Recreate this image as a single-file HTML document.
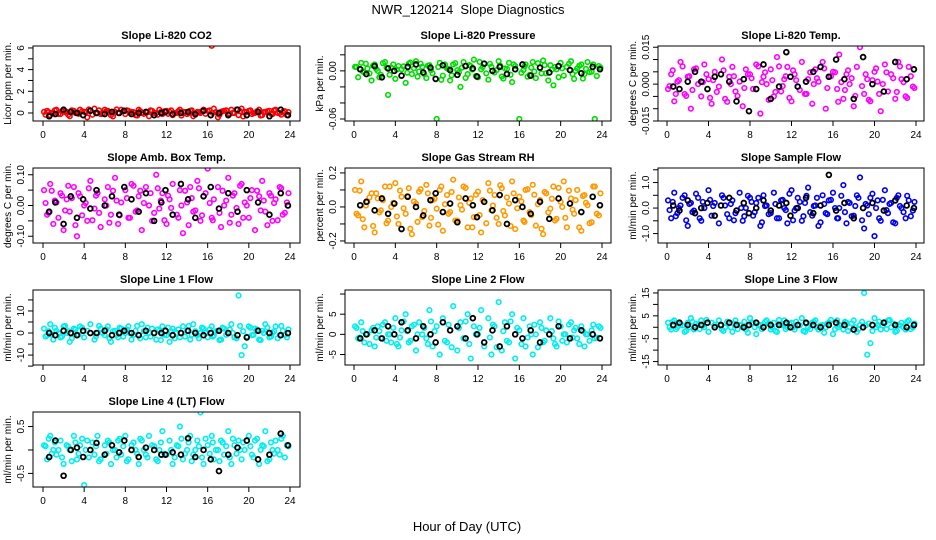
<!DOCTYPE html>
<html><head><meta charset="utf-8"><style>
body{margin:0;background:#fff}
svg{display:block;font-family:"Liberation Sans",sans-serif}
</style></head><body>
<svg id="c" width="936" height="540" viewBox="0 0 936 540">
<rect width="936" height="540" fill="#fff"/>
<text x="468" y="14" text-anchor="middle" font-size="13" style="white-space:pre">NWR_120214  Slope Diagnostics</text>
<text x="467" y="531" text-anchor="middle" font-size="13">Hour of Day (UTC)</text>
</svg>
<script>
const hoursColored=[0.1,0.4,0.7,1.0,1.3,1.7,2.0,2.3,2.6,3.0,3.3,3.6,4.0,4.3,4.6,5.0,5.3,5.6,6.0,6.3,6.6,7.0,7.3,7.6,8.0,8.3,8.6,9.0,9.3,9.6,10.0,10.3,10.6,11.0,11.3,11.6,12.0,12.3,12.6,13.0,13.3,13.6,14.0,14.3,14.6,15.0,15.3,15.6,16.0,16.4,16.6,17.0,17.3,17.6,18.0,18.3,18.6,19.0,19.3,19.6,20.0,20.3,20.6,21.0,21.3,21.6,22.0,22.3,22.6,23.0,23.3,23.7];
const hoursColored2=[0.25,0.55,0.85,1.15,1.5,1.85,2.15,2.45,2.8,3.15,3.45,3.8,4.15,4.45,4.8,5.15,5.45,5.8,6.15,6.45,6.8,7.15,7.45,7.8,8.15,8.45,8.8,9.15,9.45,9.8,10.15,10.45,10.8,11.15,11.45,11.8,12.15,12.45,12.8,13.15,13.45,13.8,14.15,14.45,14.8,15.15,15.45,15.8,16.2,16.5,16.8,17.15,17.45,17.8,18.15,18.45,18.8,19.15,19.45,19.8,20.15,20.45,20.8,21.15,21.45,21.8,22.15,22.45,22.8,23.15,23.5,23.85];
const hoursBlack=[0.6,1.2,2.0,2.7,3.3,3.9,4.6,5.2,6.0,6.7,7.4,7.9,8.6,9.3,10.0,10.8,11.5,11.9,12.6,13.4,14.1,14.8,15.6,16.3,17.1,18.0,18.9,19.8,20.9,22.0,23.1,23.8];
const co2Colored=[0.1,0.2,-0.2,0.0,0.3,-0.1,0.2,0.1,-0.3,0.2,0.0,0.3,0.1,-0.4,0.2,0.4,0.0,-0.1,0.3,0.2,-0.2,0.1,0.0,0.3,-0.1,0.2,0.1,-0.2,0.3,0.0,0.1,-0.3,0.2,0.0,0.3,-0.1,0.2,0.1,-0.2,0.0,0.3,0.1,-0.1,0.2,-0.3,0.1,0.0,0.3,0.2,6.2,0.4,-0.4,0.1,0.2,-0.1,0.3,0.0,-0.2,0.4,0.1,0.2,-0.1,0.0,0.3,-0.2,0.1,0.2,-0.1,0.3,0.0,0.1,-0.2];
const co2Black=[-0.3,-0.1,0.3,0.1,0.0,-0.2,0.2,0.0,-0.1,0.1,0.0,0.2,-0.1,0.0,0.1,-0.2,0.0,0.1,-0.1,0.0,0.1,-0.1,0.2,-0.2,0.0,-0.2,0.3,-0.2,0.1,-0.3,0.3,-0.2];
const pressColored=[0.005,-0.008,0.010,-0.002,0.003,-0.012,0.008,0.000,-0.005,0.011,-0.030,0.004,-0.010,0.006,0.002,-0.015,0.009,-0.004,0.012,-0.001,0.005,-0.009,0.007,-0.003,-0.060,0.010,-0.006,0.003,-0.012,0.008,0.001,-0.020,0.011,-0.004,0.006,0.014,-0.008,0.002,0.009,-0.011,0.005,-0.002,0.012,-0.007,0.003,0.010,-0.014,0.006,-0.060,0.001,0.008,-0.005,0.011,-0.009,0.004,0.013,-0.003,0.007,-0.018,0.002,0.010,-0.006,0.005,0.012,-0.010,0.003,0.008,-0.004,0.011,-0.001,-0.060,0.006];
const pressBlack=[0.002,-0.004,0.006,-0.008,0.003,0.000,-0.006,0.005,0.008,-0.002,0.004,-0.010,0.007,0.001,-0.005,0.006,0.003,-0.007,0.009,0.000,0.005,-0.004,0.002,0.008,-0.006,0.004,-0.002,0.006,0.001,-0.003,0.005,0.002];
const tempColored=[-0.002,0.004,-0.007,0.001,0.009,-0.004,0.003,-0.010,0.006,0.000,-0.005,0.008,0.002,-0.008,0.005,-0.001,0.010,-0.006,0.003,0.007,-0.003,0.001,-0.009,0.006,0.004,-0.002,0.008,-0.012,0.003,0.000,0.006,-0.005,0.011,-0.003,0.002,0.007,-0.007,0.004,-0.001,0.009,-0.004,0.002,-0.008,0.006,0.001,0.009,-0.010,0.003,0.005,-0.002,0.012,-0.006,0.004,0.000,-0.009,0.007,0.015,-0.004,0.002,-0.007,0.005,0.001,-0.011,0.008,-0.003,0.004,-0.006,0.009,0.002,-0.005,0.007,-0.001];
const tempBlack=[-0.001,-0.002,0.001,0.005,0.001,-0.002,0.003,0.004,0.001,-0.007,0.002,-0.011,-0.002,0.008,-0.006,-0.001,0.013,0.003,-0.001,0.001,0.005,0.007,0.003,0.010,0.002,-0.006,0.011,0.000,-0.003,0.009,0.002,0.006];
const ambColored=[0.05,-0.03,0.07,-0.06,0.01,0.04,-0.08,0.02,-0.02,0.06,-0.10,0.03,0.00,-0.05,0.08,-0.01,0.04,-0.07,0.02,0.06,-0.03,0.09,-0.06,0.01,0.05,-0.04,0.07,-0.02,0.03,-0.08,0.06,0.00,-0.05,0.10,-0.01,0.04,-0.06,0.02,0.07,-0.03,0.05,-0.09,0.01,0.06,-0.02,0.08,-0.05,0.03,0.12,-0.04,0.02,0.06,-0.07,0.00,0.09,-0.03,0.04,-0.06,0.07,0.01,-0.04,0.05,-0.08,0.03,0.08,-0.02,0.04,-0.05,0.02,0.06,-0.03,0.01];
const ambBlack=[-0.02,0.01,-0.06,0.03,-0.04,0.02,-0.01,0.05,0.00,0.03,-0.03,0.06,0.02,-0.02,0.04,-0.05,0.01,0.05,-0.03,0.07,0.02,-0.04,0.03,0.06,-0.01,0.04,-0.02,0.05,0.01,-0.03,0.04,0.00];
const rhColored=[0.10,-0.05,0.15,-0.12,0.03,0.08,-0.15,0.05,-0.02,0.12,-0.08,0.00,0.14,-0.10,0.06,-0.04,0.11,-0.16,0.02,0.09,-0.06,0.13,-0.11,0.04,-0.01,0.10,-0.14,0.07,-0.03,0.16,-0.08,0.01,0.12,-0.12,0.05,-0.06,0.09,-0.15,0.03,0.14,-0.02,0.07,-0.10,0.11,-0.05,0.02,0.15,-0.13,0.06,-0.08,0.10,-0.03,0.13,-0.11,0.04,-0.16,0.08,-0.01,0.12,-0.07,0.03,0.15,-0.12,0.05,-0.04,0.10,-0.14,0.07,0.01,-0.09,0.12,-0.05];
const rhBlack=[0.01,0.03,-0.02,0.05,-0.04,0.02,-0.13,0.06,0.00,-0.05,0.04,0.08,-0.03,0.02,-0.09,0.05,0.01,-0.06,0.03,-0.02,0.07,-0.10,0.04,0.00,-0.04,0.03,-0.07,0.05,0.02,-0.03,0.06,0.01];
const sampleColored=[0.3,-0.4,0.6,-0.2,0.1,0.5,-0.7,0.2,-0.1,0.4,-0.5,0.0,0.7,-0.3,0.2,-0.6,0.5,0.1,-0.4,0.3,-0.2,0.6,-0.5,0.0,0.4,-0.3,0.2,-0.7,0.5,0.1,-0.2,0.6,-0.4,0.3,0.0,-0.6,0.7,-0.1,0.4,-0.5,0.2,0.8,-0.3,0.1,-0.7,0.5,-0.2,0.3,0.6,-0.4,0.0,0.9,-0.6,0.2,-0.3,0.5,1.2,-0.8,0.1,0.4,-1.1,0.3,-0.5,0.7,-0.2,0.2,-0.6,0.5,0.0,-0.4,0.3,-0.1];
const sampleBlack=[0.1,-0.1,0.3,-0.2,0.0,0.2,-0.3,0.1,0.4,-0.1,0.2,-0.2,0.0,0.3,-0.1,0.1,0.2,-0.3,0.0,0.4,-0.2,0.1,1.3,-0.1,0.2,-0.4,0.0,0.2,-0.1,0.3,0.1,0.0];
const line1Colored=[2,-1,4,-3,1,-2,3,0,-4,2,-1,3,-2,1,4,-3,0,2,-1,3,-4,1,-2,2,0,3,-3,1,-1,4,-2,0,2,-3,1,3,-1,-4,2,0,-2,3,1,-3,4,-1,0,2,-2,3,-1,1,-3,2,0,4,-2,17,-10,-6,3,-1,2,-3,1,4,-2,0,3,-1,1,-2];
const line1Black=[0,-1,1,0,-1,1,0,0,1,-1,0,1,0,-1,1,0,0,1,-1,0,1,0,-1,0,1,0,-1,-2,1,0,-1,0];
const line2Colored=[2,-1,3,-2,0,1,-3,2,-1,3,0,-2,4,-3,1,5,-2,2,-4,3,0,-1,6,-3,2,-5,4,-2,1,7,-4,3,-1,5,-6,2,0,6,-3,4,-5,2,8,-4,3,-2,5,-6,1,4,-3,2,-5,0,3,-2,1,4,-1,-3,2,0,-2,3,1,-1,2,-3,0,1,-1,2];
const line2Black=[-1,0,1,-1,2,0,3,1,-1,2,0,-2,3,1,2,-1,4,0,-2,1,-3,2,0,-1,1,-2,0,2,-1,1,0,-1];
const line3Colored=[2,-1,3,0,1,-2,2,4,-1,1,3,0,-2,2,1,3,-1,0,2,-2,3,1,0,-1,4,2,-3,1,0,3,-1,2,-2,1,3,0,2,-1,1,4,-2,0,2,3,-1,1,0,2,-3,3,1,-1,2,0,3,-2,1,15,-12,-7,4,1,-1,2,3,0,-2,1,2,-1,3,0];
const line3Black=[1,2,1,0,1,2,0,1,2,1,0,1,2,0,1,1,2,0,1,2,1,0,1,2,1,-1,0,1,2,1,0,1];
const line4Colored=[0.1,-0.2,0.3,0.0,-0.1,0.2,-0.3,0.1,0.0,0.3,-0.2,0.1,-0.75,0.2,0.0,-0.1,0.3,-0.2,0.1,0.2,-0.3,0.0,0.2,-0.1,0.3,-0.2,0.1,0.0,-0.3,0.2,-0.1,0.3,0.1,-0.2,0.0,0.4,-0.1,0.2,-0.3,0.1,0.5,-0.2,0.0,0.3,-0.1,0.2,0.8,-0.3,0.1,0.3,-0.2,0.0,0.2,-0.1,0.4,-0.3,0.1,0.2,-0.2,0.0,0.3,-0.1,0.2,-0.3,0.1,0.4,-0.2,0.0,0.2,-0.1,0.3,0.1];
const line4Black=[-0.15,0.2,-0.55,0.0,0.05,-0.15,0.0,0.15,-0.1,0.1,-0.05,0.2,0.0,-0.15,0.05,0.0,-0.1,-0.1,-0.05,-0.1,0.25,-0.15,0.0,-0.2,-0.45,-0.1,0.05,0.2,-0.2,-0.1,0.35,0.1];
const xTicks=[0,4,8,12,16,20,24];

const NS="http://www.w3.org/2000/svg";
const svg=document.getElementById('c');
function mk(tag,attrs,parent){const e=document.createElementNS(NS,tag);for(const k in attrs)e.setAttribute(k,attrs[k]);(parent||svg).appendChild(e);return e;}
const cols=[{l:33,r:300,x0:43,x1:290},{l:345,r:611,x0:354,x1:602},{l:658,r:924,x0:667,x1:916}];
const panels=[
 {name:'co2',title:'Slope Li-820 CO2',ylab:'Licor ppm per min.',r:0,c:0,ymin:-0.74,ymax:6.18,core:0.5,ticks:[0,1,2,3,4,5,6],labels:{0:'0',2:'2',4:'4',6:'6'},color:'#ff0000',cv:co2Colored,bv:co2Black},
 {name:'pressure',title:'Slope Li-820 Pressure',ylab:'kPa per min.',r:0,c:1,ymin:-0.0625,ymax:0.031,core:0.016,ticks:[-0.06,-0.04,-0.02,0,0.02],labels:{'-0.06':'-0.06','0':'0.00'},color:'#00dd00',cv:pressColored,bv:pressBlack},
 {name:'li820-temp',title:'Slope Li-820 Temp.',ylab:'degrees C per min.',r:0,c:2,ymin:-0.015,ymax:0.0155,core:0.009,ticks:[-0.015,-0.01,-0.005,0,0.005,0.01,0.015],labels:{'-0.015':'-0.015','0':'0.000','0.015':'0.015'},color:'#ff00ff',cv:tempColored,bv:tempBlack},
 {name:'amb-box-temp',title:'Slope Amb. Box Temp.',ylab:'degrees C per min.',r:1,c:0,ymin:-0.122,ymax:0.122,core:0.08,ticks:[-0.1,-0.05,0,0.05,0.1],labels:{'-0.1':'-0.10','0':'0.00','0.1':'0.10'},color:'#ff00ff',cv:ambColored,bv:ambBlack},
 {name:'gas-stream-rh',title:'Slope Gas Stream RH',ylab:'percent per min.',r:1,c:1,ymin:-0.212,ymax:0.229,core:0.16,ticks:[-0.2,-0.1,0,0.1,0.2],labels:{'-0.2':'-0.2','0':'0.0','0.2':'0.2'},color:'#ff9900',cv:rhColored,bv:rhBlack},
 {name:'sample-flow',title:'Slope Sample Flow',ylab:'ml/min per min.',r:1,c:2,ymin:-1.37,ymax:1.57,core:0.7,ticks:[-1,-0.5,0,0.5,1,1.5],labels:{'-1':'-1.0','0':'0.0','1':'1.0'},color:'#0000ee',cv:sampleColored,bv:sampleBlack},
 {name:'line1-flow',title:'Slope Line 1 Flow',ylab:'ml/min per min.',r:2,c:0,ymin:-14.5,ymax:19.5,core:4,ticks:[-15,-10,-5,0,5,10,15],labels:{'-10':'-10','0':'0','10':'10'},color:'#00eeee',cv:line1Colored,bv:line1Black},
 {name:'line2-flow',title:'Slope Line 2 Flow',ylab:'ml/min per min.',r:2,c:1,ymin:-7.6,ymax:11,core:4,ticks:[-5,0,5,10],labels:{'-5':'-5','0':'0','5':'5'},color:'#00eeee',cv:line2Colored,bv:line2Black},
 {name:'line3-flow',title:'Slope Line 3 Flow',ylab:'ml/min per min.',r:2,c:2,ymin:-16.5,ymax:16.3,core:4,ticks:[-15,-10,-5,0,5,10,15],labels:{'-15':'-15','-5':'-5','5':'5','15':'15'},color:'#00eeee',cv:line3Colored,bv:line3Black},
 {name:'line4-flow',title:'Slope Line 4 (LT) Flow',ylab:'ml/min per min.',r:3,c:0,ymin:-0.79,ymax:0.81,core:0.35,ticks:[-0.5,0,0.5],labels:{'-0.5':'-0.5','0.5':'0.5'},color:'#00eeee',cv:line4Colored,bv:line4Black}
];
panels.forEach(p=>{
 const col=cols[p.c];const top=46+122*p.r,bot=top+75;
 const g=mk('g',{});
 
 
 const xs=h=>col.x0+h*(col.x1-col.x0)/24;
 const ys=v=>bot-(v-p.ymin)/(p.ymax-p.ymin)*75;
 const t=mk('text',{x:(col.l+col.r)/2,y:top-7,'text-anchor':'middle','font-size':11,'font-weight':'bold'},g);t.textContent=p.title;
 
 
 const clip=mk('clipPath',{id:'cl'+p.name},g);mk('rect',{x:col.l,y:top,width:col.r-col.l,height:75},clip);
 const pts=mk('g',{'clip-path':'url(#cl'+p.name+')'},g);
 const n=Math.min(hoursColored.length,p.cv.length);
 for(let i=0;i<n;i++){const c=mk('circle',{cx:xs(hoursColored[i]),cy:ys(p.cv[i]),r:2.3,fill:'none',stroke:p.color,'stroke-width':1.6},pts);
  
  }
 const n2=Math.min(hoursColored2.length,p.cv.length);
 for(let i=0;i<n2;i++){const v=p.cv[p.cv.length-1-i];if(Math.abs(v)>p.core)continue;
  const c=mk('circle',{cx:xs(hoursColored2[i]),cy:ys(v*0.8),r:2.3,fill:'none',stroke:p.color,'stroke-width':1.6},pts);
  
  }
 const m=Math.min(hoursBlack.length,p.bv.length);
 for(let i=0;i<m;i++){const c=mk('circle',{cx:xs(hoursBlack[i]),cy:ys(p.bv[i]),r:2.4,fill:'none',stroke:'#000','stroke-width':1.8},pts);
  
  }
 const box=mk('rect',{x:col.l,y:top,width:col.r-col.l,height:75,fill:'none',stroke:'#000','stroke-width':1},g);
 
 
 const xa=mk('g',{},g);
 
 
 mk('line',{x1:xs(0),x2:xs(24),y1:bot,y2:bot,stroke:'#000'},xa);
 xTicks.forEach(h=>{mk('line',{x1:xs(h),x2:xs(h),y1:bot,y2:bot+5,stroke:'#000'},xa);
  const l=mk('text',{x:xs(h),y:bot+17,'text-anchor':'middle','font-size':10},xa);l.textContent=h;});
 const ya=mk('g',{},g);
 
 
 mk('line',{x1:col.l,x2:col.l,y1:ys(p.ticks[0]),y2:ys(p.ticks[p.ticks.length-1]),stroke:'#000'},ya);
 p.ticks.forEach(v=>{const y=ys(v);mk('line',{x1:col.l-5,x2:col.l,y1:y,y2:y,stroke:'#000'},ya);
  const lab=p.labels[String(v)];if(lab!==undefined){const tx=mk('text',{x:col.l-9,y:y,'text-anchor':'middle','font-size':10,transform:'rotate(-90 '+(col.l-9)+' '+y+')'},ya);tx.textContent=lab;}});
 const cy=(top+bot)/2;
 const yl=mk('text',{x:col.l-22,y:cy,'text-anchor':'middle','font-size':10,transform:'rotate(-90 '+(col.l-22)+' '+cy+')'},g);yl.textContent=p.ylab;
 
 
});
</script>
</body></html>
